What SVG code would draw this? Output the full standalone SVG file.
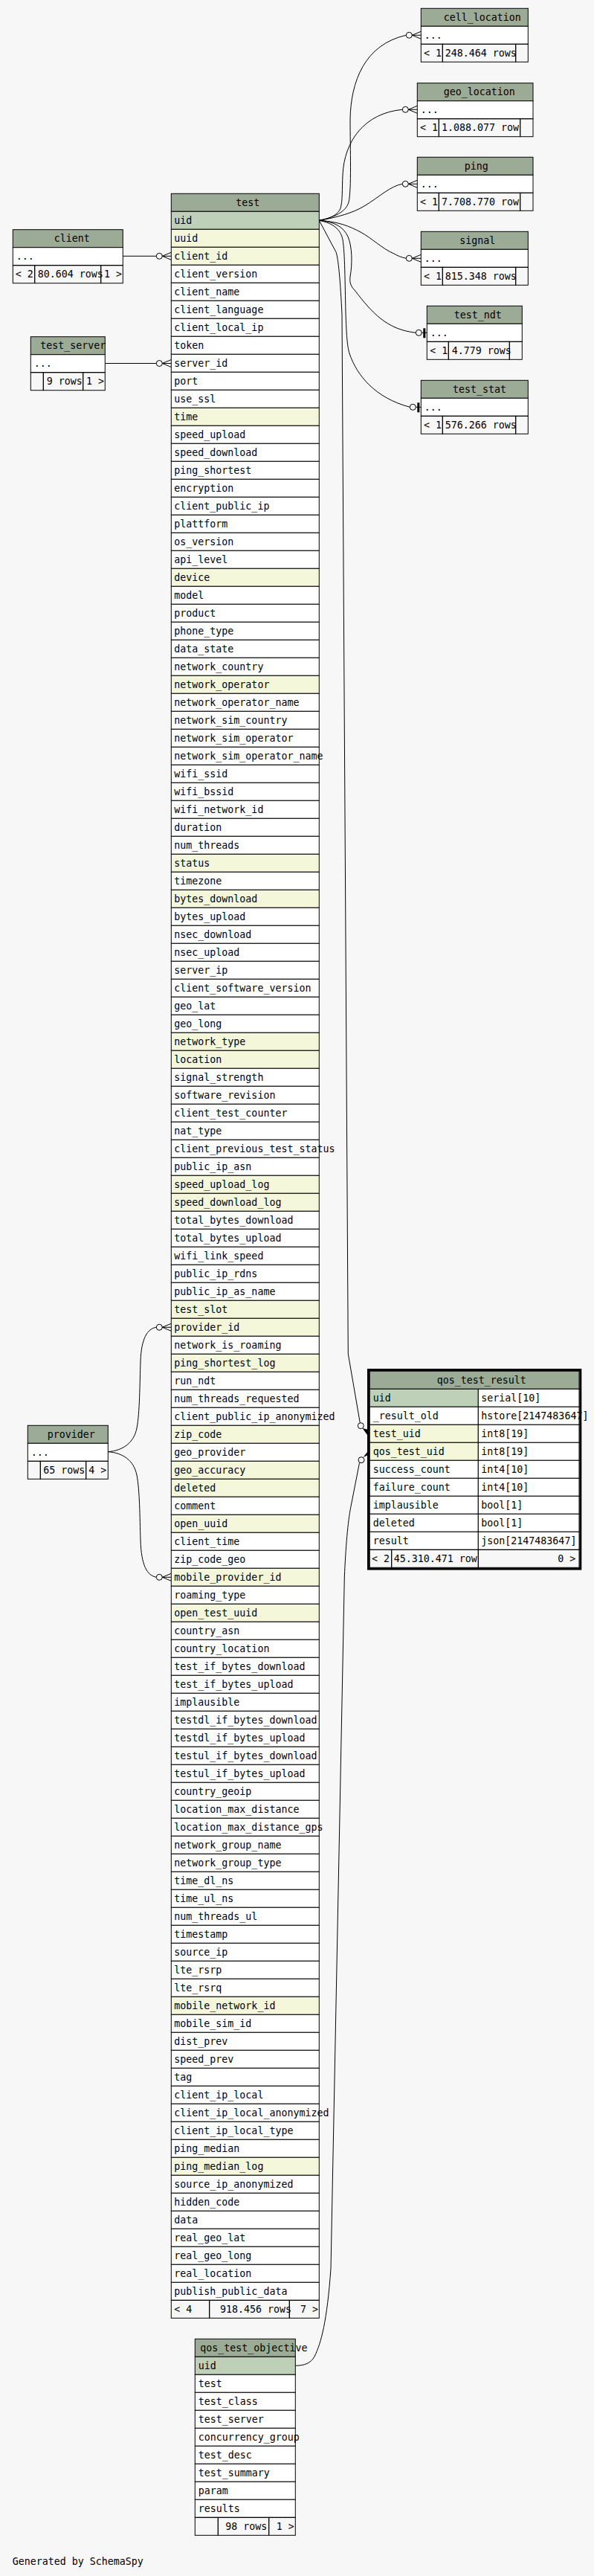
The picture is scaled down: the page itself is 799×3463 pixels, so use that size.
<svg xmlns="http://www.w3.org/2000/svg" xmlns:xlink="http://www.w3.org/1999/xlink" width="799" height="3463" viewBox="0 0 799 3463">
<style>
text{font-family:"DejaVu Sans Mono","Liberation Mono",monospace;font-size:13.3px;fill:#000}
.h{fill:#9bab96;stroke:#000;stroke-width:1}
.r{fill:#fff;stroke:#000;stroke-width:1}
.k{fill:#bed1b8;stroke:#000;stroke-width:1}
.i{fill:#f4f7da;stroke:#000;stroke-width:1}
.f{fill:none;stroke:#000;stroke-width:1}
.m{text-anchor:middle}
.e{fill:none;stroke:#000;stroke-width:1}
.o{fill:none;stroke:#000;stroke-width:1}
</style>
<defs>
<g id="crow"><circle class="o" cx="-16" cy="0" r="4"/><path class="e" d="M-12,0H0M-12,0L0,-5M-12,0L0,5"/></g>
<g id="one"><circle class="o" cx="-11" cy="0" r="4"/><path class="e" d="M-7,0H0"/><rect x="-5" y="-6" width="3" height="13" fill="#000"/></g>
</defs>
<rect width="799" height="3463" fill="#f7f7f7"/>

<g id="connectors">
<path class="e" d="M165.3,344.3H210.3"/>
<use xlink:href="#crow" href="#crow" x="230.3" y="344.3"/>
<path class="e" d="M141.3,488.5H210.3"/>
<use xlink:href="#crow" href="#crow" x="230.3" y="488.5"/>
<path class="e" d="M145.3,1951.7C165,1950 180,1940 184,1920C188,1900 188,1860 189,1830C190,1800 198,1786 210.3,1784.3"/>
<use xlink:href="#crow" href="#crow" x="230.3" y="1784.3"/>
<path class="e" d="M145.3,1951.7C165,1953 180,1963 184,1983C188,2003 188,2040 189,2070C190,2105 198,2118 210.3,2120.3"/>
<use xlink:href="#crow" href="#crow" x="230.3" y="2120.3"/>
<path class="e" d="M429.3,296.3C450,292 465,285 469,272C473,255 471,200 471,160C472,110 490,60 546.3,47.3"/>
<use xlink:href="#crow" href="#crow" x="566.3" y="47.3"/>
<path class="e" d="M429.3,296.3C445,294 455,288 458,280C461,270 460,255 461,235C463,190 490,152 541.3,147.3"/>
<use xlink:href="#crow" href="#crow" x="561.3" y="147.3"/>
<path class="e" d="M429.3,296.3C455,292 475,286 490,277C510,265 525,250 541.3,247.3"/>
<use xlink:href="#crow" href="#crow" x="561.3" y="247.3"/>
<path class="e" d="M429.3,296.3C455,298 470,304 485,312C500,320 515,335 530,341C535,344 540,346 546.3,347.3"/>
<use xlink:href="#crow" href="#crow" x="566.3" y="347.3"/>
<path class="e" d="M429.3,296.3C450,298 462,305 468,318C474,332 474,355 471,372C470,380 472,385 477,390C500,420 520,443 559.3,447.3"/>
<use xlink:href="#one" href="#one" x="574.3" y="447.3"/>
<path class="e" d="M429.3,296.3C448,300 458,308 461,322C464,340 464,380 465,420C466,450 467,465 470,475C480,505 505,535 551.3,547.3"/>
<use xlink:href="#one" href="#one" x="566.3" y="547.3"/>
<path class="e" d="M429.3,296.3L451.7,338.3C455,345 458,380 460,423L468.3,1820L484.3,1912.8"/>
<circle class="o" cx="485.3" cy="1916.7" r="4"/>
<polygon points="487.5,1920 497.3,1922.5 495.5,1931" fill="#000"/>
<path class="e" d="M397.3,3180.3C410,3180 418,3177 423,3168C432,3150 440,3120 445,3050L463.3,2120C465,2080 468,2045 471.7,2026.7L483.5,1966.5"/>
<circle class="o" cx="486" cy="1962.7" r="4"/>
<polygon points="488.5,1959 497.3,1948 497.3,1955" fill="#000"/>
</g>

<g id="cell_location" transform="translate(566.3,11.3)">
<rect class="h" width="144" height="24"/><text class="m" x="82.5" y="16.7">cell_location</text>
<rect class="r" y="24" width="144" height="24"/><text x="4.4" y="40.7">...</text>
<rect class="f" y="48" width="29" height="24"/><rect class="f" x="29" y="48" width="98.4" height="24"/><rect class="f" x="127.4" y="48" width="16.6" height="24"/>
<text x="3.7" y="64.7">&lt; 1</text><text x="32.4" y="64.7">248.464 rows</text>
</g>

<g id="geo_location" transform="translate(561.3,111.7)">
<rect class="h" width="155.7" height="24"/><text class="m" x="83.4" y="16.7">geo_location</text>
<rect class="r" y="24" width="155.7" height="24"/><text x="4.4" y="40.7">...</text>
<rect class="f" y="48" width="29" height="24"/><rect class="f" x="29" y="48" width="109.4" height="24"/><rect class="f" x="138.4" y="48" width="17.3" height="24"/>
<text x="3.7" y="64.7">&lt; 1</text><text x="32.7" y="64.7">1.088.077 row</text>
</g>

<g id="ping" transform="translate(561.3,211.3)">
<rect class="h" width="155.7" height="24"/><text class="m" x="79.4" y="16.7">ping</text>
<rect class="r" y="24" width="155.7" height="24"/><text x="4.4" y="40.7">...</text>
<rect class="f" y="48" width="29" height="24"/><rect class="f" x="29" y="48" width="109.4" height="24"/><rect class="f" x="138.4" y="48" width="17.3" height="24"/>
<text x="3.7" y="64.7">&lt; 1</text><text x="32.7" y="64.7">7.708.770 row</text>
</g>

<g id="signal" transform="translate(566.3,311.3)">
<rect class="h" width="144" height="24"/><text class="m" x="76" y="16.7">signal</text>
<rect class="r" y="24" width="144" height="24"/><text x="4.4" y="40.7">...</text>
<rect class="f" y="48" width="29" height="24"/><rect class="f" x="29" y="48" width="98.4" height="24"/><rect class="f" x="127.4" y="48" width="16.6" height="24"/>
<text x="3.7" y="64.7">&lt; 1</text><text x="32.4" y="64.7">815.348 rows</text>
</g>

<g id="test_ndt" transform="translate(574.3,411.3)">
<rect class="h" width="128" height="24"/><text class="m" x="68.4" y="16.7">test_ndt</text>
<rect class="r" y="24" width="128" height="24"/><text x="4.4" y="40.7">...</text>
<rect class="f" y="48" width="29" height="24"/><rect class="f" x="29" y="48" width="82" height="24"/><rect class="f" x="111" y="48" width="17" height="24"/>
<text x="4" y="64.7">&lt; 1</text><text x="33.4" y="64.7">4.779 rows</text>
</g>

<g id="test_stat" transform="translate(566.3,511.3)">
<rect class="h" width="144" height="24"/><text class="m" x="78.7" y="16.7">test_stat</text>
<rect class="r" y="24" width="144" height="24"/><text x="4.4" y="40.7">...</text>
<rect class="f" y="48" width="29" height="24"/><rect class="f" x="29" y="48" width="98.4" height="24"/><rect class="f" x="127.4" y="48" width="16.6" height="24"/>
<text x="3.7" y="64.7">&lt; 1</text><text x="32.4" y="64.7">576.266 rows</text>
</g>

<g id="client" transform="translate(17.3,308.7)">
<rect class="h" width="148" height="24"/><text class="m" x="79.4" y="16.7">client</text>
<rect class="r" y="24" width="148" height="24"/><text x="4.4" y="40.7">...</text>
<rect class="f" y="48" width="29.4" height="24"/><rect class="f" x="29.4" y="48" width="89" height="24"/><rect class="f" x="118.4" y="48" width="29.6" height="24"/>
<text x="3.4" y="64.7">&lt; 2</text><text x="33.4" y="64.7">80.604 rows</text><text x="122.7" y="64.7">1 &gt;</text>
</g>

<g id="test_server" transform="translate(41.3,452.7)">
<rect class="h" width="100" height="24"/><text x="13" y="16.7">test_server</text>
<rect class="r" y="24" width="100" height="24"/><text x="4.4" y="40.7">...</text>
<rect class="f" y="48" width="17" height="24"/><rect class="f" x="17" y="48" width="53.4" height="24"/><rect class="f" x="70.4" y="48" width="29.6" height="24"/>
<text x="21.4" y="64.7">9 rows</text><text x="74.7" y="64.7">1 &gt;</text>
</g>

<g id="provider" transform="translate(37.3,1916.3)">
<rect class="h" width="108" height="24"/><text class="m" x="58.4" y="16.7">provider</text>
<rect class="r" y="24" width="108" height="24"/><text x="4.4" y="40.7">...</text>
<rect class="f" y="48" width="17" height="24"/><rect class="f" x="17" y="48" width="61.4" height="24"/><rect class="f" x="78.4" y="48" width="29.6" height="24"/>
<text x="21" y="64.7">65 rows</text><text x="82" y="64.7">4 &gt;</text>
</g>

<g id="test" transform="translate(230.3,260.3)">
<rect class="h" width="199" height="24"/><text class="m" x="103" y="16.7">test</text>
<rect class="k" y="24" width="199" height="24"/><text x="4" y="40.7">uid</text>
<rect class="i" y="48" width="199" height="24"/><text x="4" y="64.7">uuid</text>
<rect class="i" y="72" width="199" height="24"/><text x="4" y="88.7">client_id</text>
<rect class="r" y="96" width="199" height="24"/><text x="4" y="112.7">client_version</text>
<rect class="r" y="120" width="199" height="24"/><text x="4" y="136.7">client_name</text>
<rect class="r" y="144" width="199" height="24"/><text x="4" y="160.7">client_language</text>
<rect class="r" y="168" width="199" height="24"/><text x="4" y="184.7">client_local_ip</text>
<rect class="r" y="192" width="199" height="24"/><text x="4" y="208.7">token</text>
<rect class="r" y="216" width="199" height="24"/><text x="4" y="232.7">server_id</text>
<rect class="r" y="240" width="199" height="24"/><text x="4" y="256.7">port</text>
<rect class="r" y="264" width="199" height="24"/><text x="4" y="280.7">use_ssl</text>
<rect class="i" y="288" width="199" height="24"/><text x="4" y="304.7">time</text>
<rect class="r" y="312" width="199" height="24"/><text x="4" y="328.7">speed_upload</text>
<rect class="r" y="336" width="199" height="24"/><text x="4" y="352.7">speed_download</text>
<rect class="r" y="360" width="199" height="24"/><text x="4" y="376.7">ping_shortest</text>
<rect class="r" y="384" width="199" height="24"/><text x="4" y="400.7">encryption</text>
<rect class="r" y="408" width="199" height="24"/><text x="4" y="424.7">client_public_ip</text>
<rect class="r" y="432" width="199" height="24"/><text x="4" y="448.7">plattform</text>
<rect class="r" y="456" width="199" height="24"/><text x="4" y="472.7">os_version</text>
<rect class="r" y="480" width="199" height="24"/><text x="4" y="496.7">api_level</text>
<rect class="i" y="504" width="199" height="24"/><text x="4" y="520.7">device</text>
<rect class="r" y="528" width="199" height="24"/><text x="4" y="544.7">model</text>
<rect class="r" y="552" width="199" height="24"/><text x="4" y="568.7">product</text>
<rect class="r" y="576" width="199" height="24"/><text x="4" y="592.7">phone_type</text>
<rect class="r" y="600" width="199" height="24"/><text x="4" y="616.7">data_state</text>
<rect class="r" y="624" width="199" height="24"/><text x="4" y="640.7">network_country</text>
<rect class="i" y="648" width="199" height="24"/><text x="4" y="664.7">network_operator</text>
<rect class="r" y="672" width="199" height="24"/><text x="4" y="688.7">network_operator_name</text>
<rect class="r" y="696" width="199" height="24"/><text x="4" y="712.7">network_sim_country</text>
<rect class="r" y="720" width="199" height="24"/><text x="4" y="736.7">network_sim_operator</text>
<rect class="r" y="744" width="199" height="24"/><text x="4" y="760.7">network_sim_operator_name</text>
<rect class="r" y="768" width="199" height="24"/><text x="4" y="784.7">wifi_ssid</text>
<rect class="r" y="792" width="199" height="24"/><text x="4" y="808.7">wifi_bssid</text>
<rect class="r" y="816" width="199" height="24"/><text x="4" y="832.7">wifi_network_id</text>
<rect class="r" y="840" width="199" height="24"/><text x="4" y="856.7">duration</text>
<rect class="r" y="864" width="199" height="24"/><text x="4" y="880.7">num_threads</text>
<rect class="i" y="888" width="199" height="24"/><text x="4" y="904.7">status</text>
<rect class="r" y="912" width="199" height="24"/><text x="4" y="928.7">timezone</text>
<rect class="i" y="936" width="199" height="24"/><text x="4" y="952.7">bytes_download</text>
<rect class="r" y="960" width="199" height="24"/><text x="4" y="976.7">bytes_upload</text>
<rect class="r" y="984" width="199" height="24"/><text x="4" y="1000.7">nsec_download</text>
<rect class="r" y="1008" width="199" height="24"/><text x="4" y="1024.7">nsec_upload</text>
<rect class="r" y="1032" width="199" height="24"/><text x="4" y="1048.7">server_ip</text>
<rect class="r" y="1056" width="199" height="24"/><text x="4" y="1072.7">client_software_version</text>
<rect class="r" y="1080" width="199" height="24"/><text x="4" y="1096.7">geo_lat</text>
<rect class="r" y="1104" width="199" height="24"/><text x="4" y="1120.7">geo_long</text>
<rect class="i" y="1128" width="199" height="24"/><text x="4" y="1144.7">network_type</text>
<rect class="i" y="1152" width="199" height="24"/><text x="4" y="1168.7">location</text>
<rect class="r" y="1176" width="199" height="24"/><text x="4" y="1192.7">signal_strength</text>
<rect class="r" y="1200" width="199" height="24"/><text x="4" y="1216.7">software_revision</text>
<rect class="r" y="1224" width="199" height="24"/><text x="4" y="1240.7">client_test_counter</text>
<rect class="r" y="1248" width="199" height="24"/><text x="4" y="1264.7">nat_type</text>
<rect class="r" y="1272" width="199" height="24"/><text x="4" y="1288.7">client_previous_test_status</text>
<rect class="r" y="1296" width="199" height="24"/><text x="4" y="1312.7">public_ip_asn</text>
<rect class="i" y="1320" width="199" height="24"/><text x="4" y="1336.7">speed_upload_log</text>
<rect class="i" y="1344" width="199" height="24"/><text x="4" y="1360.7">speed_download_log</text>
<rect class="r" y="1368" width="199" height="24"/><text x="4" y="1384.7">total_bytes_download</text>
<rect class="r" y="1392" width="199" height="24"/><text x="4" y="1408.7">total_bytes_upload</text>
<rect class="r" y="1416" width="199" height="24"/><text x="4" y="1432.7">wifi_link_speed</text>
<rect class="r" y="1440" width="199" height="24"/><text x="4" y="1456.7">public_ip_rdns</text>
<rect class="r" y="1464" width="199" height="24"/><text x="4" y="1480.7">public_ip_as_name</text>
<rect class="i" y="1488" width="199" height="24"/><text x="4" y="1504.7">test_slot</text>
<rect class="i" y="1512" width="199" height="24"/><text x="4" y="1528.7">provider_id</text>
<rect class="r" y="1536" width="199" height="24"/><text x="4" y="1552.7">network_is_roaming</text>
<rect class="i" y="1560" width="199" height="24"/><text x="4" y="1576.7">ping_shortest_log</text>
<rect class="r" y="1584" width="199" height="24"/><text x="4" y="1600.7">run_ndt</text>
<rect class="r" y="1608" width="199" height="24"/><text x="4" y="1624.7">num_threads_requested</text>
<rect class="r" y="1632" width="199" height="24"/><text x="4" y="1648.7">client_public_ip_anonymized</text>
<rect class="i" y="1656" width="199" height="24"/><text x="4" y="1672.7">zip_code</text>
<rect class="r" y="1680" width="199" height="24"/><text x="4" y="1696.7">geo_provider</text>
<rect class="i" y="1704" width="199" height="24"/><text x="4" y="1720.7">geo_accuracy</text>
<rect class="i" y="1728" width="199" height="24"/><text x="4" y="1744.7">deleted</text>
<rect class="r" y="1752" width="199" height="24"/><text x="4" y="1768.7">comment</text>
<rect class="i" y="1776" width="199" height="24"/><text x="4" y="1792.7">open_uuid</text>
<rect class="r" y="1800" width="199" height="24"/><text x="4" y="1816.7">client_time</text>
<rect class="r" y="1824" width="199" height="24"/><text x="4" y="1840.7">zip_code_geo</text>
<rect class="i" y="1848" width="199" height="24"/><text x="4" y="1864.7">mobile_provider_id</text>
<rect class="r" y="1872" width="199" height="24"/><text x="4" y="1888.7">roaming_type</text>
<rect class="i" y="1896" width="199" height="24"/><text x="4" y="1912.7">open_test_uuid</text>
<rect class="r" y="1920" width="199" height="24"/><text x="4" y="1936.7">country_asn</text>
<rect class="r" y="1944" width="199" height="24"/><text x="4" y="1960.7">country_location</text>
<rect class="r" y="1968" width="199" height="24"/><text x="4" y="1984.7">test_if_bytes_download</text>
<rect class="r" y="1992" width="199" height="24"/><text x="4" y="2008.7">test_if_bytes_upload</text>
<rect class="r" y="2016" width="199" height="24"/><text x="4" y="2032.7">implausible</text>
<rect class="r" y="2040" width="199" height="24"/><text x="4" y="2056.7">testdl_if_bytes_download</text>
<rect class="r" y="2064" width="199" height="24"/><text x="4" y="2080.7">testdl_if_bytes_upload</text>
<rect class="r" y="2088" width="199" height="24"/><text x="4" y="2104.7">testul_if_bytes_download</text>
<rect class="r" y="2112" width="199" height="24"/><text x="4" y="2128.7">testul_if_bytes_upload</text>
<rect class="r" y="2136" width="199" height="24"/><text x="4" y="2152.7">country_geoip</text>
<rect class="r" y="2160" width="199" height="24"/><text x="4" y="2176.7">location_max_distance</text>
<rect class="r" y="2184" width="199" height="24"/><text x="4" y="2200.7">location_max_distance_gps</text>
<rect class="r" y="2208" width="199" height="24"/><text x="4" y="2224.7">network_group_name</text>
<rect class="r" y="2232" width="199" height="24"/><text x="4" y="2248.7">network_group_type</text>
<rect class="r" y="2256" width="199" height="24"/><text x="4" y="2272.7">time_dl_ns</text>
<rect class="r" y="2280" width="199" height="24"/><text x="4" y="2296.7">time_ul_ns</text>
<rect class="r" y="2304" width="199" height="24"/><text x="4" y="2320.7">num_threads_ul</text>
<rect class="r" y="2328" width="199" height="24"/><text x="4" y="2344.7">timestamp</text>
<rect class="r" y="2352" width="199" height="24"/><text x="4" y="2368.7">source_ip</text>
<rect class="r" y="2376" width="199" height="24"/><text x="4" y="2392.7">lte_rsrp</text>
<rect class="r" y="2400" width="199" height="24"/><text x="4" y="2416.7">lte_rsrq</text>
<rect class="i" y="2424" width="199" height="24"/><text x="4" y="2440.7">mobile_network_id</text>
<rect class="r" y="2448" width="199" height="24"/><text x="4" y="2464.7">mobile_sim_id</text>
<rect class="r" y="2472" width="199" height="24"/><text x="4" y="2488.7">dist_prev</text>
<rect class="r" y="2496" width="199" height="24"/><text x="4" y="2512.7">speed_prev</text>
<rect class="r" y="2520" width="199" height="24"/><text x="4" y="2536.7">tag</text>
<rect class="r" y="2544" width="199" height="24"/><text x="4" y="2560.7">client_ip_local</text>
<rect class="r" y="2568" width="199" height="24"/><text x="4" y="2584.7">client_ip_local_anonymized</text>
<rect class="r" y="2592" width="199" height="24"/><text x="4" y="2608.7">client_ip_local_type</text>
<rect class="r" y="2616" width="199" height="24"/><text x="4" y="2632.7">ping_median</text>
<rect class="i" y="2640" width="199" height="24"/><text x="4" y="2656.7">ping_median_log</text>
<rect class="r" y="2664" width="199" height="24"/><text x="4" y="2680.7">source_ip_anonymized</text>
<rect class="r" y="2688" width="199" height="24"/><text x="4" y="2704.7">hidden_code</text>
<rect class="r" y="2712" width="199" height="24"/><text x="4" y="2728.7">data</text>
<rect class="r" y="2736" width="199" height="24"/><text x="4" y="2752.7">real_geo_lat</text>
<rect class="r" y="2760" width="199" height="24"/><text x="4" y="2776.7">real_geo_long</text>
<rect class="r" y="2784" width="199" height="24"/><text x="4" y="2800.7">real_location</text>
<rect class="r" y="2808" width="199" height="24"/><text x="4" y="2824.7">publish_public_data</text>
<rect class="f" y="2832" width="51.4" height="24"/><rect class="f" x="51.4" y="2832" width="107.6" height="24"/><rect class="f" x="159" y="2832" width="40" height="24"/>
<text x="4" y="2848.7">&lt; 4</text><text x="65.7" y="2848.7">918.456 rows</text><text x="173.7" y="2848.7">7 &gt;</text>
</g>

<g id="qos_test_result" transform="translate(497.3,1843.3)">
<rect class="h" width="281.7" height="24"/><text class="m" x="150.4" y="16.7">qos_test_result</text>
<rect class="k" y="24" width="146" height="24"/><rect class="r" x="146" y="24" width="135.7" height="24"/><text x="4.4" y="40.7">uid</text><text x="150" y="40.7">serial[10]</text>
<rect class="r" y="48" width="146" height="24"/><rect class="r" x="146" y="48" width="135.7" height="24"/><text x="4.4" y="64.7">_result_old</text><text x="150" y="64.7">hstore[2147483647]</text>
<rect class="i" y="72" width="146" height="24"/><rect class="r" x="146" y="72" width="135.7" height="24"/><text x="4.4" y="88.7">test_uid</text><text x="150" y="88.7">int8[19]</text>
<rect class="i" y="96" width="146" height="24"/><rect class="r" x="146" y="96" width="135.7" height="24"/><text x="4.4" y="112.7">qos_test_uid</text><text x="150" y="112.7">int8[19]</text>
<rect class="r" y="120" width="146" height="24"/><rect class="r" x="146" y="120" width="135.7" height="24"/><text x="4.4" y="136.7">success_count</text><text x="150" y="136.7">int4[10]</text>
<rect class="r" y="144" width="146" height="24"/><rect class="r" x="146" y="144" width="135.7" height="24"/><text x="4.4" y="160.7">failure_count</text><text x="150" y="160.7">int4[10]</text>
<rect class="r" y="168" width="146" height="24"/><rect class="r" x="146" y="168" width="135.7" height="24"/><text x="4.4" y="184.7">implausible</text><text x="150" y="184.7">bool[1]</text>
<rect class="r" y="192" width="146" height="24"/><rect class="r" x="146" y="192" width="135.7" height="24"/><text x="4.4" y="208.7">deleted</text><text x="150" y="208.7">bool[1]</text>
<rect class="r" y="216" width="146" height="24"/><rect class="r" x="146" y="216" width="135.7" height="24"/><text x="4.4" y="232.7">result</text><text x="150" y="232.7">json[2147483647]</text>
<rect class="f" y="240" width="29.4" height="24"/><rect class="f" x="29.4" y="240" width="116.6" height="24"/><rect class="f" x="146" y="240" width="135.7" height="24"/>
<text x="2.7" y="256.7">&lt; 2</text><text x="32.4" y="256.7">45.310.471 row</text><text x="277" y="256.7" text-anchor="end">0 &gt;</text>
<rect x="-1.8" y="-1.8" width="285.3" height="267.6" fill="none" stroke="#000" stroke-width="3"/>
</g>

<g id="qos_test_objective" transform="translate(262.3,3144.3)">
<rect class="h" width="135" height="24"/><text x="7" y="16.7">qos_test_objective</text>
<rect class="k" y="24" width="135" height="24"/><text x="4.4" y="40.7">uid</text>
<rect class="r" y="48" width="135" height="24"/><text x="4.4" y="64.7">test</text>
<rect class="r" y="72" width="135" height="24"/><text x="4.4" y="88.7">test_class</text>
<rect class="r" y="96" width="135" height="24"/><text x="4.4" y="112.7">test_server</text>
<rect class="r" y="120" width="135" height="24"/><text x="4.4" y="136.7">concurrency_group</text>
<rect class="r" y="144" width="135" height="24"/><text x="4.4" y="160.7">test_desc</text>
<rect class="r" y="168" width="135" height="24"/><text x="4.4" y="184.7">test_summary</text>
<rect class="r" y="192" width="135" height="24"/><text x="4.4" y="208.7">param</text>
<rect class="r" y="216" width="135" height="24"/><text x="4.4" y="232.7">results</text>
<rect class="f" y="240" width="31" height="24"/><rect class="f" x="31" y="240" width="68.4" height="24"/><rect class="f" x="99.4" y="240" width="35.6" height="24"/>
<text x="41" y="256.7">98 rows</text><text x="109.4" y="256.7">1 &gt;</text>
</g>

<text x="16.7" y="3448.3">Generated by SchemaSpy</text>
</svg>
